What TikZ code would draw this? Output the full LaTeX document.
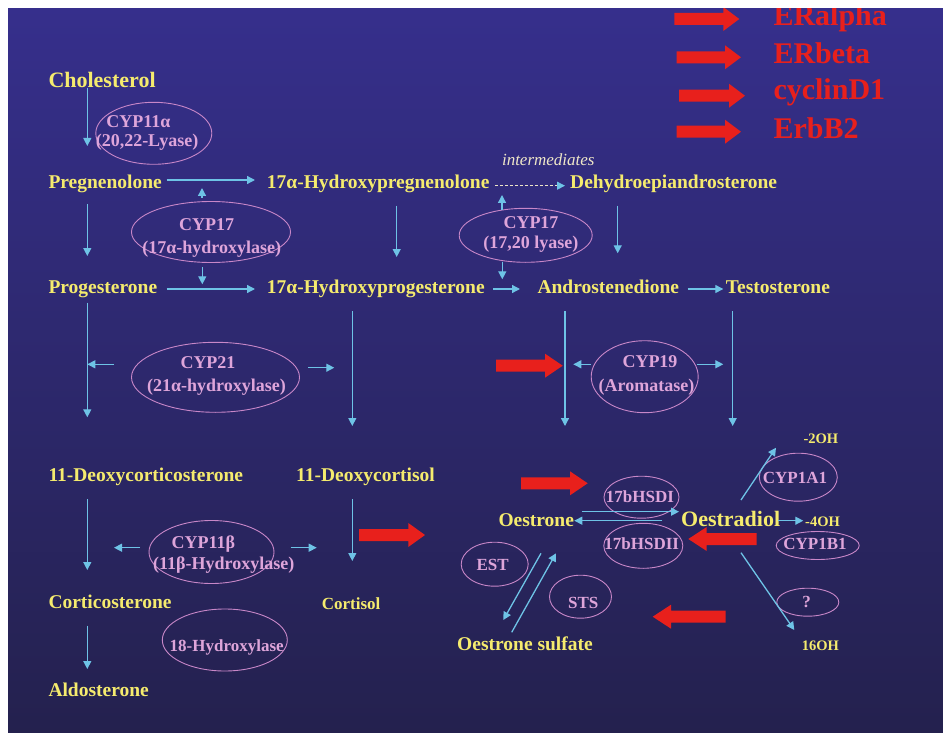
\documentclass[tikz,border=0pt]{standalone}
\usepackage{fontspec}
\setmainfont{Liberation Serif}
\usetikzlibrary{shapes.geometric,arrows.meta}

\definecolor{slidetop}{RGB}{54,47,140}
\definecolor{slidebottom}{RGB}{36,33,78}
\definecolor{metyellow}{RGB}{245,235,110}
\definecolor{enzpink}{RGB}{222,165,218}
\definecolor{ringpink}{RGB}{200,135,200}
\definecolor{flowblue}{RGB}{110,195,230}
\definecolor{effred}{RGB}{232,32,28}
\definecolor{midcream}{RGB}{238,230,200}

% tail x, head base x, tip x, y
\newcommand{\fatarrow}[4]{%
  \fill[effred] (#1,#4-6) -- (#2,#4-6) -- (#2,#4-12) -- (#3,#4) -- (#2,#4+12) -- (#2,#4+6) -- (#1,#4+6) -- cycle;}

\tikzset{
  metab/.style={anchor=base west, inner sep=0pt, text=metyellow, font=\bfseries\fontsize{19.5}{22}\selectfont},
  bigmetab/.style={metab, font=\bfseries\fontsize{22}{24}\selectfont},
  smallmetab/.style={metab, font=\bfseries\fontsize{14.5}{16}\selectfont},
  enzring/.style={ellipse, draw=ringpink, line width=0.9pt, inner sep=0pt},
  enzlabel/.style={anchor=base, inner sep=0pt, text=enzpink, font=\bfseries\fontsize{18}{20}\selectfont},
  smallenz/.style={enzlabel, font=\bfseries\fontsize{17}{19}\selectfont},
  effect/.style={anchor=base west, inner sep=0pt, text=effred, font=\bfseries\fontsize{30}{32}\selectfont},
  flow/.style={draw=flowblue, line width=1.3pt, -{Triangle[length=8pt,width=8pt]}}
}

\begin{document}
\begin{tikzpicture}[x=1pt,y=-1pt]
  \useasboundingbox (0,0) rectangle (943,733);
  \shade[top color=slidetop, bottom color=slidebottom] (8,8) rectangle (943,733);

  % red markers
  \fatarrow{674.3}{723.3}{739.3}{19}
  \fatarrow{676.7}{725}{741}{57.3}
  \fatarrow{679}{729}{745}{95.7}
  \fatarrow{676.7}{725}{741}{131.7}
  \fatarrow{496}{545}{562.7}{365.7}
  \fatarrow{521}{570}{587.7}{483.3}
  \fatarrow{359}{408.3}{425}{535}
  \fatarrow{756.7}{706.7}{688.3}{539}
  \fatarrow{725.7}{671}{652.7}{616.7}

  \begin{scope}[every node/.style={effect}]
    \node (eralpha) at (773.3,26) {ERalpha};
    \node (erbeta) at (773.3,64) {ERbeta};
    \node (cyclin) at (773.3,100) {cyclinD1};
    \node (erbb) at (773.3,138.3) {ErbB2};
  \end{scope}

  \begin{scope}[every node/.style={enzring}]
    \node[minimum width=116pt, minimum height=62pt] (ring11a) at (153.8,133.3) {};
    \node[minimum width=159pt, minimum height=61pt] (ring17h) at (211,232) {};
    \node[minimum width=133pt, minimum height=54pt] (ring17l) at (525.7,235.3) {};
    \node[minimum width=168pt, minimum height=70pt] (ring21) at (215.5,377.3) {};
    \node[minimum width=107pt, minimum height=72pt] (ring19) at (644.7,376.7) {};
    \node[minimum width=125pt, minimum height=63pt] (ring11b) at (211.5,552) {};
    \node[minimum width=125pt, minimum height=62pt] (ring18) at (224.8,640) {};
    \node[minimum width=75pt, minimum height=42pt] (ringhsd1) at (641.5,497.2) {};
    \node[minimum width=79pt, minimum height=45pt] (ringhsd2) at (643.3,545.8) {};
    \node[minimum width=78pt, minimum height=48pt] (ring1a1) at (798.3,477.2) {};
    \node[minimum width=83pt, minimum height=28pt] (ring1b1) at (817.7,545.5) {};
    \node[minimum width=67pt, minimum height=44pt] (ringest) at (494.7,564.2) {};
    \node[minimum width=62pt, minimum height=43pt] (ringsts) at (580.5,596.7) {};
    \node[minimum width=62pt, minimum height=28pt] (ringq) at (807.8,602.2) {};
  \end{scope}

  \begin{scope}[every node/.style={enzlabel}]
    \node (lab11a) at (138.3,127.7) {CYP11α};
    \node (lab11a2) at (147,146.7) {(20,22-Lyase)};
    \node (lab17h) at (206.7,230) {CYP17};
    \node (lab17h2) at (211.7,253) {(17α-hydroxylase)};
    \node (lab17l) at (531,228.3) {CYP17};
    \node (lab17l2) at (530.8,248.3) {(17,20 lyase)};
    \node (lab21) at (208,368.3) {CYP21};
    \node (lab212) at (216.5,391.7) {(21α-hydroxylase)};
    \node (lab19) at (650,367.3) {CYP19};
    \node (lab192) at (646.5,391.7) {(Aromatase)};
    \node (lab11b) at (203.3,548.3) {CYP11β};
    \node (lab11b2) at (223.8,569.3) {(11β-Hydroxylase)};
    \node[smallenz] (lab18) at (226.7,651.7) {18-Hydroxylase};
    \node[smallenz] (labhsd1) at (640,502.7) {17bHSDI};
    \node[smallenz] (labhsd2) at (641.7,549.3) {17bHSDII};
    \node[smallenz] (lab1a1) at (795,483.3) {CYP1A1};
    \node[smallenz] (lab1b1) at (815,549.3) {CYP1B1};
    \node[smallenz] (labest) at (492.7,570) {EST};
    \node[smallenz] (labsts) at (583.3,608.3) {STS};
    \node[smallenz] (labq) at (806.7,607.7) {?};
  \end{scope}

  \begin{scope}[every node/.style={metab}]
    \node[bigmetab] (chol) at (48.3,87.7) {Cholesterol};
    \node (preg) at (48.3,189) {Pregnenolone};
    \node (ohpreg) at (266.7,189) {17α-Hydroxypregnenolone};
    \node (dhea) at (570,188.5) {Dehydroepiandrosterone};
    \node (prog) at (48.3,293.3) {Progesterone};
    \node (ohprog) at (266.7,293.3) {17α-Hydroxyprogesterone};
    \node (andro) at (537.3,293.3) {Androstenedione};
    \node (testo) at (725.7,293.3) {Testosterone};
    \node (doc) at (48.3,481.7) {11-Deoxycorticosterone};
    \node (dcort) at (296,481.7) {11-Deoxycortisol};
    \node (cortico) at (48.3,608.3) {Corticosterone};
    \node[font=\bfseries\fontsize{17}{19}\selectfont] (cortisol) at (321.7,609) {Cortisol};
    \node (aldo) at (48.3,696) {Aldosterone};
    \node (oestrone) at (498.3,526) {Oestrone};
    \node[bigmetab] (oestradiol) at (681,526) {Oestradiol};
    \node (osulf) at (457,650.7) {Oestrone sulfate};
    \node[smallmetab] (oh2) at (803.3,443.3) {-2OH};
    \node[smallmetab] (oh4) at (805,526) {-4OH};
    \node[smallmetab] (oh16) at (801.7,650.7) {16OH};
  \end{scope}
  \node[anchor=base, inner sep=0pt, text=midcream, font=\itshape\fontsize{17}{19}\selectfont] (interm) at (548.3,165.7) {intermediates};

  \begin{scope}[every edge/.style={flow}]
    % down the columns
    \draw ([shift={(39,0)}]chol.base west) edge ([shift={(39,-43)}]preg.base west);
    \draw ([shift={(39,15)}]preg.base west) edge ([shift={(39,-37.3)}]prog.base west);
    \draw ([shift={(39,9.4)}]prog.base west) edge ([shift={(39,-64.4)}]doc.base west);
    \draw ([shift={(39,17.6)}]doc.base west) edge ([shift={(39,-38.3)}]cortico.base west);
    \draw ([shift={(39,17.4)}]cortico.base west) edge ([shift={(39,-27)}]aldo.base west);
    \draw ([shift={(130,16.7)}]ohpreg.base west) edge ([shift={(130,-36.3)}]ohprog.base west);
    \draw ([shift={(85.6,17.7)}]ohprog.base west) edge ([shift={(56.3,-55.7)}]dcort.base west);
    \draw ([shift={(56.3,17.6)}]dcort.base west) edge ([shift={(30.6,-48)}]cortisol.base west);
    \draw ([shift={(47.7,17.2)}]dhea.base west) edge ([shift={(80.4,-40)}]andro.base west);
    \draw ([shift={(27.7,17.7)}]andro.base west) edge ([shift={(66.7,-100)}]oestrone.base west);
    \draw ([shift={(7,17.7)}]testo.base west) edge ([shift={(51.7,-100)}]oestradiol.base west);
    % along the rows
    \draw ([shift={(118.4,-9)}]preg.base west) edge ([shift={(-11.7,-9)}]ohpreg.base west);
    \draw ([shift={(228.3,-3.3)}]ohpreg.base west) edge[draw=midcream, line width=0.8pt, dash pattern=on 3pt off 2pt, -{Triangle[length=8pt,width=8pt,color=flowblue]}] ([shift={(-5,-2.8)}]dhea.base west);
    \draw ([shift={(118.4,-4.3)}]prog.base west) edge ([shift={(-11.7,-4.3)}]ohprog.base west);
    \draw ([shift={(226.6,-4.3)}]ohprog.base west) edge ([shift={(-17.3,-4.3)}]andro.base west);
    \draw ([shift={(150.4,-4.3)}]andro.base west) edge ([shift={(-2.4,-4.3)}]testo.base west);
    \draw ([shift={(83.4,-14.3)}]oestrone.base west) edge ([shift={(-2,-14.3)}]oestradiol.base west);
    \draw ([shift={(-18.7,-5.3)}]oestradiol.base west) edge ([shift={(76,-5.3)}]oestrone.base west);
    \draw ([shift={(97.3,-5.3)}]oestradiol.base west) edge ([shift={(-1.7,-5.3)}]oh4.base west);
    % diagonals
    \draw ([shift={(60,-26)}]oestradiol.base west) edge ([shift={(-27.3,4.4)}]oh2.base west);
    \draw ([shift={(60,26.7)}]oestradiol.base west) edge ([shift={(-7.4,-20.7)}]oh16.base west);
    \draw ([shift={(42.7,27.3)}]oestrone.base west) edge ([shift={(46.3,-30.7)}]osulf.base west);
    \draw ([shift={(54.7,-18.4)}]osulf.base west) edge ([shift={(57.7,27.3)}]oestrone.base west);
    % enzyme side arrows
    \draw ([shift={(-9,-34)}]ring17h.center) edge ([shift={(-9,-44)}]ring17h.center);
    \draw ([shift={(-8.7,35.3)}]ring17h.center) edge ([shift={(-8.7,52.3)}]ring17h.center);
    \draw ([shift={(-23.7,-25.3)}]ring17l.center) edge ([shift={(-23.7,-40.3)}]ring17l.center);
    \draw ([shift={(-23.4,26.4)}]ring17l.center) edge ([shift={(-23.4,44)}]ring17l.center);
    \draw ([shift={(-101.5,-13)}]ring21.center) edge ([shift={(-128.2,-13)}]ring21.center);
    \draw ([shift={(92.8,-9.6)}]ring21.center) edge ([shift={(118.8,-9.6)}]ring21.center);
    \draw ([shift={(-53.7,-12.4)}]ring19.center) edge ([shift={(-71.4,-12.4)}]ring19.center);
    \draw ([shift={(52.6,-12.4)}]ring19.center) edge ([shift={(78.6,-12.4)}]ring19.center);
    \draw ([shift={(-71.5,-4.3)}]ring11b.center) edge ([shift={(-97.5,-4.3)}]ring11b.center);
    \draw ([shift={(79.2,-4.3)}]ring11b.center) edge ([shift={(105.2,-4.3)}]ring11b.center);
  \end{scope}

  \fill[white] (0,0) rectangle (943,8);
  \fill[white] (0,0) rectangle (8,733);
\end{tikzpicture}
\end{document}
